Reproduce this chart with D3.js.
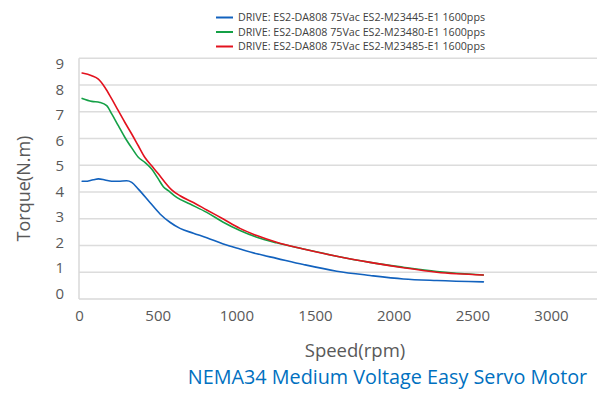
<!DOCTYPE html>
<html>
<head>
<meta charset="utf-8">
<script src="https://cdn.jsdelivr.net/npm/d3@7"></script>
<style>
  html, body { margin: 0; padding: 0; background: #fff; }
  svg { display: block; font-family: "Open Sans", "Noto Sans", sans-serif; }
</style>
</head>
<body>
<svg id="chart" width="597" height="395"></svg>
<script>
// ---- data ----
const seriesNames = [
  "DRIVE: ES2-DA808 75Vac ES2-M23445-E1 1600pps",
  "DRIVE: ES2-DA808 75Vac ES2-M23480-E1 1600pps",
  "DRIVE: ES2-DA808 75Vac ES2-M23485-E1 1600pps"
];
const seriesColors = ["#1262BE", "#14A046", "#E3121E"];

const speedM23445 = [20, 40, 91, 123, 165, 208, 250, 303, 335, 377, 451, 515, 578, 642, 727, 812, 917, 1023, 1130, 1256, 1426, 1638, 1850, 2061, 2274, 2570];
const torqueM23445 = [4.40, 4.40, 4.46, 4.49, 4.45, 4.40, 4.40, 4.42, 4.36, 4.11, 3.61, 3.18, 2.87, 2.64, 2.46, 2.29, 2.06, 1.87, 1.69, 1.52, 1.29, 1.04, 0.88, 0.75, 0.69, 0.64];

const speedM23480 = [20, 81, 133, 176, 208, 250, 292, 335, 377, 419, 462, 504, 536, 568, 621, 706, 812, 917, 1023, 1130, 1256, 1426, 1638, 1850, 2061, 2274, 2570];
const torqueM23480 = [7.50, 7.39, 7.35, 7.23, 6.92, 6.48, 6.04, 5.65, 5.30, 5.11, 4.86, 4.49, 4.20, 4.05, 3.80, 3.55, 3.24, 2.87, 2.56, 2.31, 2.10, 1.87, 1.60, 1.37, 1.19, 1.03, 0.90];

const speedM23485 = [20, 81, 123, 165, 208, 250, 292, 335, 377, 419, 462, 504, 547, 589, 642, 727, 812, 917, 1023, 1130, 1256, 1426, 1638, 1850, 2061, 2274, 2570];
const torqueM23485 = [8.45, 8.35, 8.22, 7.91, 7.48, 7.04, 6.60, 6.17, 5.73, 5.29, 4.98, 4.68, 4.36, 4.08, 3.86, 3.61, 3.33, 2.99, 2.64, 2.37, 2.12, 1.87, 1.60, 1.37, 1.17, 1.00, 0.90];

const xTicks = [0, 500, 1000, 1500, 2000, 2500, 3000];
const yTicks = [0, 1, 2, 3, 4, 5, 6, 7, 8, 9];

const xTitle = "Speed(rpm)";
const yTitle = "Torque(N.m)";
const chartTitle = "NEMA34 Medium Voltage Easy Servo Motor";

// ---- build ----
const series = [
  { name: seriesNames[0], color: seriesColors[0], pts: speedM23445.map((s, i) => [s, torqueM23445[i]]) },
  { name: seriesNames[1], color: seriesColors[1], pts: speedM23480.map((s, i) => [s, torqueM23480[i]]) },
  { name: seriesNames[2], color: seriesColors[2], pts: speedM23485.map((s, i) => [s, torqueM23485[i]]) }
];

const svg = d3.select("#chart");
const W = 597;
const x = d3.scaleLinear().domain([0, 3000]).range([79, 551]);
const y = d3.scaleLinear().domain([0, 9]).range([299, 58.3]);
// label placement scale (tick labels sit slightly compressed vs. gridlines in the reference)
const yLab = d3.scaleLinear().domain([0, 9]).range([293.7, 63.7]);

// gridlines
svg.append("g").selectAll("line").data(yTicks.filter(d => d > 0)).join("line")
  .attr("x1", x(0)).attr("x2", W)
  .attr("y1", d => y(d)).attr("y2", d => y(d))
  .attr("stroke", "#DCDCDC").attr("stroke-width", 1.5);

// axis lines
svg.append("line").attr("x1", x(0)).attr("x2", W).attr("y1", y(0)).attr("y2", y(0))
  .attr("stroke", "#D9D9D9").attr("stroke-width", 1.5);
svg.append("line").attr("x1", x(0)).attr("x2", x(0)).attr("y1", y(9)).attr("y2", y(0))
  .attr("stroke", "#D9D9D9").attr("stroke-width", 1.5);

// y axis labels
const yAxis = d3.axisLeft(yLab).tickValues(yTicks).tickSize(0).tickPadding(0).tickFormat(d3.format("d"));
const gy = svg.append("g").attr("transform", "translate(64,0)").call(yAxis);
gy.select(".domain").remove();
gy.selectAll("text").attr("font-size", 15).attr("fill", "#595959")
  .attr("font-family", "Open Sans, sans-serif");

// x axis labels
const xAxis = d3.axisBottom(x).tickValues(xTicks).tickSize(0).tickPadding(0).tickFormat(d3.format("d"));
const gx = svg.append("g").attr("transform", "translate(0,310)").call(xAxis);
gx.select(".domain").remove();
gx.selectAll("text").attr("font-size", 15).attr("fill", "#595959")
  .attr("font-family", "Open Sans, sans-serif").attr("dy", "0.71em");

// lines
const line = d3.line().x(d => x(d[0])).y(d => y(d[1])).curve(d3.curveMonotoneX);
svg.append("g").selectAll("path").data(series).join("path")
  .attr("d", d => line(d.pts))
  .attr("fill", "none")
  .attr("stroke", d => d.color)
  .attr("stroke-width", 1.6)
  .attr("stroke-linejoin", "round")
  .attr("stroke-linecap", "round");

// legend
const legendY = [17.5, 32, 46.5];
const lg = svg.append("g").selectAll("g").data(series).join("g")
  .attr("transform", (d, i) => `translate(0,${legendY[i]})`);
lg.append("line").attr("x1", 216).attr("x2", 233).attr("y1", 0).attr("y2", 0)
  .attr("stroke", d => d.color).attr("stroke-width", 2);
lg.append("text").attr("x", 238).attr("y", 3.8)
  .attr("font-size", 10.7).attr("fill", "#404040")
  .text(d => d.name);

// axis titles
svg.append("text").attr("transform", "translate(30,188.5) rotate(-90)")
  .attr("text-anchor", "middle").attr("font-size", 18).attr("fill", "#595959")
  .text(yTitle);
svg.append("text").attr("x", 355).attr("y", 357)
  .attr("text-anchor", "middle").attr("font-size", 18.5).attr("fill", "#595959")
  .text(xTitle);

// chart title
svg.append("text").attr("x", 387.5).attr("y", 384)
  .attr("text-anchor", "middle").attr("font-size", 19.8).attr("fill", "#0070C0")
  .text(chartTitle);
</script>
</body>
</html>
